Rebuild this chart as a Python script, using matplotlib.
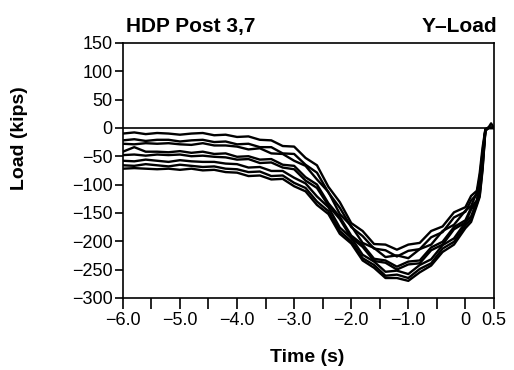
import matplotlib
matplotlib.use("Agg")
import matplotlib.pyplot as plt

plt.rcParams['font.family'] = ['Liberation Sans', 'DejaVu Sans']

time_s = [-6.0, -5.8, -5.6, -5.4, -5.2, -5.0, -4.8, -4.6, -4.4, -4.2, -4.0, -3.8, -3.6,
          -3.4, -3.2, -3.0, -2.8, -2.6, -2.4, -2.2, -2.0, -1.8, -1.6, -1.4, -1.2, -1.0,
          -0.8, -0.6, -0.4, -0.2, 0.0, 0.1, 0.2, 0.25, 0.3, 0.35, 0.4, 0.45, 0.5]

load_1 = [-10, -8, -11, -9, -10, -12, -10, -9, -13, -12, -16, -15, -21, -22, -32, -33, -53, -66,
          -104, -131, -168, -182, -205, -206, -215, -206, -203, -182, -174, -149, -140, -120,
          -111, -80, -35, -2, 0, 8, 0]
load_2 = [-22, -20, -23, -21, -21, -24, -22, -21, -25, -24, -29, -28, -34, -34, -45, -46, -65, -79,
          -114, -141, -175, -191, -213, -216, -227, -217, -214, -193, -184, -158, -148, -128,
          -117, -87, -43, -3, 0, 0, 0]
load_3 = [-28, -29, -27, -28, -27, -29, -30, -27, -31, -31, -33, -38, -36, -45, -46, -58, -67, -91,
          -113, -152, -173, -203, -212, -228, -225, -230, -214, -206, -182, -171, -146, -138,
          -114, -95, -47, -3, 0, 0, 0]
load_4 = [-42, -34, -42, -42, -43, -41, -44, -42, -46, -45, -51, -50, -56, -55, -65, -67, -87, -100,
          -133, -157, -190, -206, -231, -234, -245, -236, -234, -211, -201, -175, -163, -141,
          -128, -100, -56, -4, 0, 0, 0]
load_5 = [-48, -47, -49, -47, -48, -47, -50, -49, -51, -52, -56, -55, -62, -61, -70, -73, -93, -106,
          -137, -161, -194, -210, -235, -238, -250, -241, -239, -216, -206, -179, -167, -144,
          -131, -103, -59, -4, 0, 0, 0]
load_6 = [-58, -59, -56, -58, -60, -57, -59, -60, -60, -63, -64, -70, -69, -76, -76, -88, -98, -121,
          -140, -176, -194, -224, -236, -254, -252, -258, -242, -232, -207, -195, -167, -156,
          -130, -113, -66, -4, 0, 0, 0]
load_7 = [-66, -67, -64, -66, -68, -65, -67, -69, -68, -72, -73, -78, -77, -85, -84, -97, -106, -130,
          -147, -182, -200, -230, -242, -261, -259, -265, -249, -239, -213, -201, -172, -161,
          -134, -119, -71, -5, 0, 0, 0]
load_8 = [-72, -71, -72, -73, -72, -74, -72, -75, -74, -78, -79, -85, -84, -91, -90, -103, -112, -136,
          -152, -187, -204, -234, -247, -265, -265, -270, -255, -243, -219, -206, -177, -166,
          -137, -122, -75, -5, 0, 0, 0]

series = [load_1, load_2, load_3, load_4, load_5, load_6, load_7, load_8]

x_ticks = [-6.0, -5.5, -5.0, -4.5, -4.0, -3.5, -3.0, -2.5, -2.0, -1.5, -1.0, -0.5, 0.0, 0.5]
x_labels = ['\u22126.0', '', '\u22125.0', '', '\u22124.0', '', '\u22123.0', '', '\u22122.0', '',
            '\u22121.0', '', '0', '0.5']
y_ticks = [150, 100, 50, 0, -50, -100, -150, -200, -250, -300]

fig = plt.figure(figsize=(5.14, 3.70), dpi=100)
ax = fig.add_axes([0.239, 0.195, 0.722, 0.689])

for s in series:
    ax.plot(time_s, s, color='black', lw=1.7, solid_joinstyle='round')
ax.axhline(0, color='black', lw=1.2)

ax.set_xlim(-6.0, 0.5)
ax.set_ylim(-300, 150)
ax.set_xticks(x_ticks)
ax.set_xticklabels(x_labels, fontsize=13)
ax.set_yticks(y_ticks)
ax.set_yticklabels([str(v).replace('-', '\u2212') for v in y_ticks], fontsize=13)
ax.tick_params(axis='x', direction='out', length=8, width=1.2, pad=2)
ax.tick_params(axis='y', direction='out', length=6, width=1.2, pad=1.5)
for sp in ax.spines.values():
    sp.set_linewidth(1.2)

fig.text(307 / 514, 0.022, 'Time (s)', fontsize=14, fontweight='bold', ha='center', va='baseline')
fig.text(20 / 514, 1 - 138 / 370, 'Load (kips)', fontsize=14, fontweight='bold',
         rotation=90, ha='center', va='center')

fig.text(126 / 514, 1 - 32 / 370, 'HDP Post 3,7', fontsize=15, fontweight='bold',
         ha='left', va='baseline')
fig.text(497 / 514, 1 - 32 / 370, 'Y\u2013Load', fontsize=15, fontweight='bold',
         ha='right', va='baseline')

fig.savefig('out.png', dpi=100)
